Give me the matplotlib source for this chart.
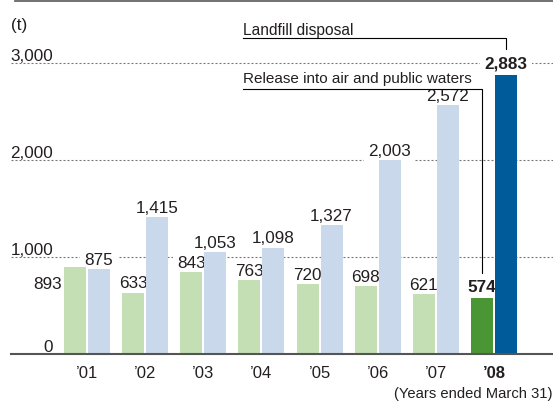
import numpy as np
import matplotlib.pyplot as plt
from matplotlib.lines import Line2D

plt.rcParams['font.family'] = ['Liberation Sans', 'DejaVu Sans']

# data (t)
years = ['\u201901', '\u201902', '\u201903', '\u201904', '\u201905', '\u201906', '\u201907', '\u201908']
release = [893, 633, 843, 763, 720, 698, 621, 574]
landfill = [875, 1415, 1053, 1098, 1327, 2003, 2572, 2883]
yticks = [0, 1000, 2000, 3000]

txt = '#231f20'
gc = ['#c4dfb4'] * 7 + ['#4a9634']
bc = ['#c9d9eb'] * 7 + ['#005b9b']

fig = plt.figure(figsize=(5.53, 4.01), dpi=100)
ax = fig.add_axes([0, 0, 1, 1])
ax.set_xlim(-1.496, 8.014)
ax.set_ylim(-485, 3653)
ax.axis('off')

x = np.arange(len(years))
w = 0.378
off = 0.206

ax.bar(x - off, release, w, color=gc, edgecolor='none', zorder=3)
ax.bar(x + off, landfill, w, color=bc, edgecolor='none', zorder=3)

# grid + baseline
for v in yticks[1:]:
    ax.axhline(v, xmin=11/553, color='#777777', lw=0.8, ls=(0, (1.8, 1.8)), zorder=1)
ax.axhline(0, xmin=11/553, color='#555555', lw=1.5, zorder=4)

# y labels sit above the lines
for v in yticks:
    ax.annotate('{:,}'.format(v), xy=(53/553, v), xycoords=ax.get_yaxis_transform(),
                xytext=(0, 1.5), textcoords='offset points', ha='right', va='baseline',
                fontsize=12.3, color=txt)

box = dict(boxstyle='square,pad=0.25', fc='white', ec='none')
last = len(years) - 1

# value labels
for i, v in enumerate(landfill):
    b = i == last
    ax.annotate('{:,}'.format(v), xy=(x[i] + off, v), xytext=(0, 4.5 if b else 3),
                textcoords='offset points', ha='center', va='baseline', fontsize=12.3,
                fontweight='bold' if b else 'normal', color=txt, bbox=box, zorder=2.5)
for i, v in enumerate(release):
    b = i == last
    if i == 0:
        ax.annotate('{:,}'.format(v), xy=(x[i] - off - w/2, v), xytext=(-1.5, -15.5),
                    textcoords='offset points', ha='right', va='baseline', fontsize=12.3,
                    color=txt, bbox=box, zorder=2.5)
    else:
        ax.annotate('{:,}'.format(v), xy=(x[i] - off, v), xytext=(0, 4.5 if b else 3),
                    textcoords='offset points', ha='center', va='baseline', fontsize=12.3,
                    fontweight='bold' if b else 'normal', color=txt, bbox=box, zorder=2.5)

# category labels
for i, yr in enumerate(years):
    ax.annotate(yr, xy=(x[i], 0), xytext=(0, -17.3), textcoords='offset points',
                ha='center', va='baseline', fontsize=12, color=txt,
                fontweight='bold' if i == last else 'normal')

# callouts for the latest year
lx0 = 2.683
ax.plot([lx0, x[last] + off, x[last] + off], [3261, 3261, landfill[last] + 265],
        color='k', lw=0.8, zorder=5)
ax.plot([lx0, x[last] - off, x[last] - off], [2738, 2738, release[last] + 265],
        color='k', lw=0.8, zorder=5)
ax.annotate('Landfill disposal', xy=(lx0, 3261), xytext=(0, 2.5), textcoords='offset points',
            ha='left', va='baseline', fontsize=11.2, color=txt)
ax.annotate('Release into air and public waters', xy=(lx0, 2738), xytext=(0, 4),
            textcoords='offset points', ha='left', va='baseline', fontsize=11, color=txt)

fig.text(11/553, 1 - 30/401, '(t)', ha='left', va='baseline', fontsize=12.3, color=txt)
fig.text(552/553, 3/401, '(Years ended March 31)', ha='right', va='baseline',
         fontsize=10.6, color=txt)
fig.add_artist(Line2D([15/553, 1], [1 - 1/401, 1 - 1/401], color='#666666', lw=1.3))

fig.savefig('out.png', dpi=100)
